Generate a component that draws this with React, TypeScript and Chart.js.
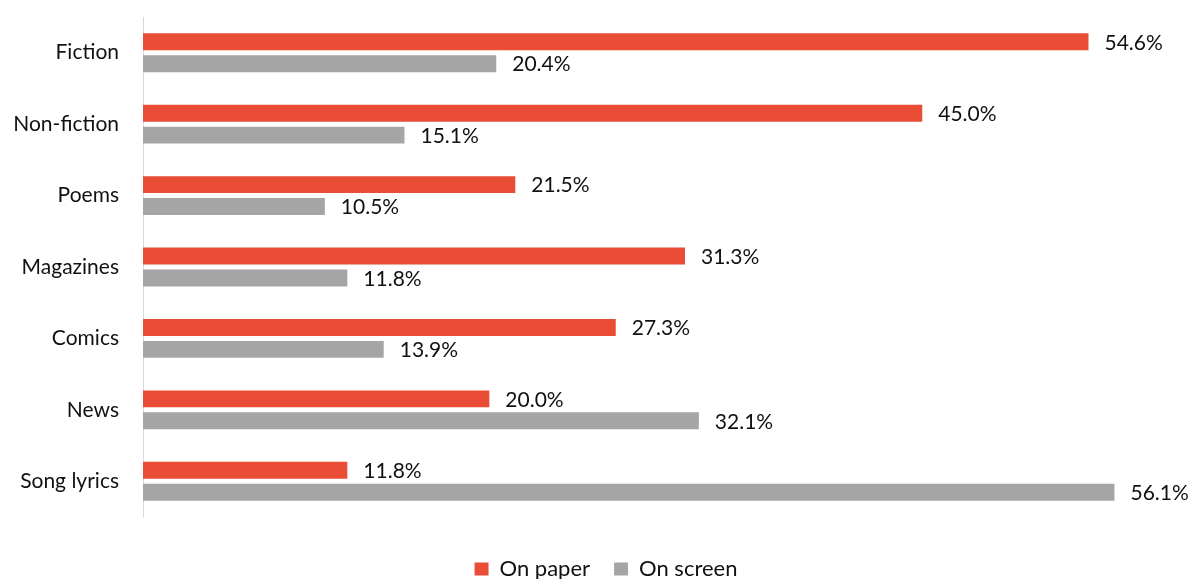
import React, { useEffect, useRef } from "react";
import { Chart, registerables } from "chart.js";

Chart.register(...registerables);

const categories = ["Fiction", "Non-fiction", "Poems", "Magazines", "Comics", "News", "Song lyrics"];
const onPaper = [54.6, 45.0, 21.5, 31.3, 27.3, 20.0, 11.8];
const onScreen = [20.4, 15.1, 10.5, 11.8, 13.9, 32.1, 56.1];
const seriesNames = ["On paper", "On screen"];

const FONT = "Lato, 'Noto Sans', sans-serif";

const valueLabels = {
  id: "valueLabels",
  afterDatasetsDraw(chart: any) {
    const ctx = chart.ctx;
    ctx.save();
    ctx.font = `21px ${FONT}`;
    ctx.fillStyle = "#111";
    ctx.textAlign = "left";
    ctx.textBaseline = "middle";
    chart.data.datasets.forEach((ds: any, i: number) => {
      const meta = chart.getDatasetMeta(i);
      meta.data.forEach((el: any, j: number) => {
        ctx.fillText(Number(ds.data[j]).toFixed(1) + "%", el.x + 16, el.y + 1);
      });
    });
    ctx.restore();
  },
};

const legendShift = {
  id: "legendShift",
  afterLayout(chart: any) {
    if (chart.legend) {
      chart.legend.left += 15;
      chart.legend.right += 15;
    }
  },
};

export default function App() {
  const ref = useRef<HTMLCanvasElement | null>(null);
  useEffect(() => {
    document.body.style.margin = "0";
    const chart = new Chart(ref.current!, {
      type: "bar",
      data: {
        labels: categories,
        datasets: [
          { label: seriesNames[0], data: onPaper, backgroundColor: "#E94D35" },
          { label: seriesNames[1], data: onScreen, backgroundColor: "#A5A5A5" },
        ],
      },
      options: {
        indexAxis: "y",
        animation: false,
        responsive: false,
        maintainAspectRatio: false,
        layout: { padding: { left: 0, right: 10, top: 17, bottom: -11 } },
        datasets: { bar: { categoryPercentage: 0.614, barPercentage: 0.773 } },
        scales: {
          x: {
            display: true,
            min: 0,
            max: 60,
            grid: { display: false },
            border: { display: false },
            ticks: { display: false },
            afterFit(scale: any) {
              scale.height = 17;
            },
          },
          y: {
            grid: { display: false, drawTicks: false },
            border: { display: true, color: "#d9d9d9", width: 1 },
            ticks: { color: "#111", font: { family: FONT, size: 21 }, padding: 24 },
            afterFit(scale: any) {
              scale.width = 143;
              scale.paddingTop = 0;
              scale.paddingBottom = 0;
            },
          },
        },
        plugins: {
          legend: {
            position: "bottom",
            labels: {
              boxWidth: 14,
              boxHeight: 13,
              padding: 24,
              color: "#111",
              font: { family: FONT, size: 22 },
            },
          },
          tooltip: { enabled: false },
        },
      },
      plugins: [valueLabels, legendShift],
    });
    return () => chart.destroy();
  }, []);
  return (
    <div style={{ width: 1192, height: 579 }}>
      <canvas ref={ref} width={1192} height={579} style={{ display: "block" }} />
    </div>
  );
}
